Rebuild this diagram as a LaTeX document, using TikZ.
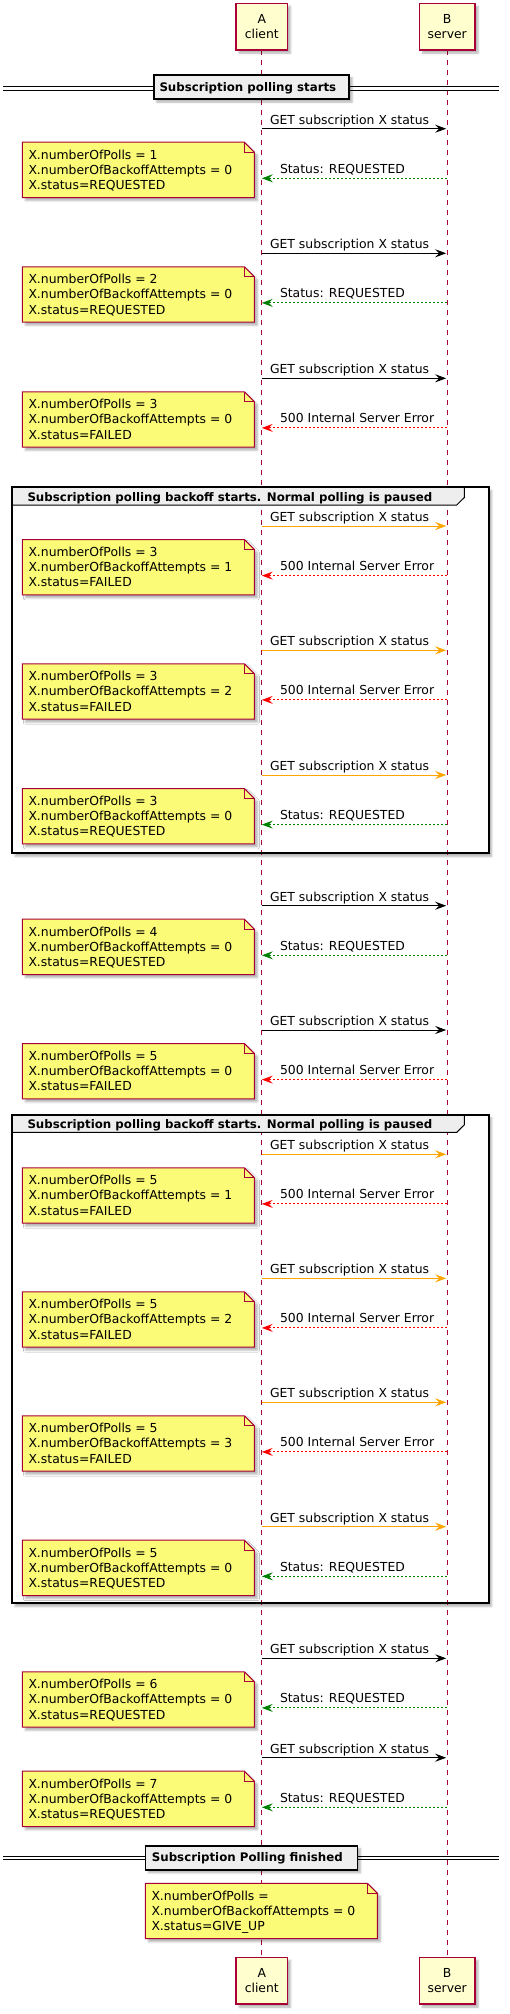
\documentclass[tikz,border=0pt]{standalone}
\usepackage{fontspec}
\setmainfont{DejaVu Sans}
\usetikzlibrary{arrows.meta,shadows.blur,calc}
\definecolor{partfill}{HTML}{FEFECE}
\definecolor{partline}{HTML}{A80036}
\definecolor{notefill}{HTML}{FBFB77}
\definecolor{hdrfill}{HTML}{EEEEEE}
\definecolor{okgreen}{HTML}{008000}
\definecolor{errred}{HTML}{FF0000}
\definecolor{retryorange}{HTML}{FFA500}
\newcommand\xa{261.8}
\newcommand\xb{447.2}
\newcommand\nt[3]{\vtop{\baselineskip=15.3pt\hbox{#1}\hbox{#2}\hbox{#3}}}
\tikzset{
  shd/.style={blur shadow={shadow xshift=3pt,shadow yshift=-3pt,shadow blur radius=2pt,shadow opacity=30}},
  txt/.style={font=\fontsize{12.4}{15.3}\selectfont, inner sep=0pt},
  hdr/.style={font=\fontsize{11.8}{14}\selectfont\bfseries, inner sep=0pt},
  part/.style={draw=partline, fill=partfill, line width=1.5pt, align=center, inner sep=0pt, font=\fontsize{12.4}{14.5}\selectfont, shd},
  life/.style={draw=partline, line width=1pt, dash pattern=on 5pt off 5pt},
  tip/.style={-{Stealth[length=11pt,width=8pt,inset=4pt]}},
  callblack/.style={tip, draw=black, line width=1pt, shorten >=1pt},
  callorange/.style={tip, draw=retryorange, line width=1pt, shorten >=1pt},
  retgreen/.style={tip, draw=okgreen, line width=1pt, dash pattern=on 2pt off 2pt},
  retred/.style={tip, draw=errred, line width=1pt, dash pattern=on 2pt off 2pt},
  notestyle/.style={fill=notefill, draw=partline, line width=1pt, line join=miter, shd},
  noteline/.style={draw=partline, line width=1pt},
  frame/.style={draw=black, line width=2pt},
  grouptab/.style={fill=hdrfill, draw=black, line width=1pt},
  sepbox/.style={fill=hdrfill, draw=black, line width=1.5pt, inner sep=0pt, shd},
  sepline/.style={draw=black, line width=1pt},
}
\newcommand\notebox[6]{%
  \node[minimum width=231.7pt, minimum height=55pt, inner sep=0pt, anchor=north west] (#1) at (#2,#3) {};
  \path[notestyle] (#1.north west) -- ([xshift=-10pt]#1.north east) -- ([yshift=-10pt]#1.north east) -- (#1.south east) -- (#1.south west) -- cycle;
  \path[noteline] ([xshift=-10pt]#1.north east) -- ([xshift=-10pt,yshift=-10pt]#1.north east) -- ([yshift=-10pt]#1.north east);
  \node[txt, anchor=base west] (#1t) at ([xshift=6pt,yshift=-16.8pt]#1.north west) {\nt{#4}{#5}{#6}};
}
\newcommand\msg[8]{%
  \coordinate (a#1) at (\xa,#2);
  \coordinate (b#1) at (\xb,#2);
  \coordinate (ra#1) at (\xa,#2+49.6);
  \coordinate (rb#1) at (\xb,#2+49.6);
  \draw[#3] (a#1) -- (b#1);
  \node[txt, anchor=base west] (q#1) at ([xshift=8pt,yshift=4.5pt]a#1) {GET subscription X status};
  \draw[#4] (rb#1) -- (ra#1);
  \node[txt, anchor=base west] (r#1) at ([xshift=18pt,yshift=5pt]ra#1) {#5};
  \notebox{n#1}{22.3}{#2+13.5}{X.numberOfPolls = #6}{X.numberOfBackoffAttempts = #7}{X.status=#8}%
}
\newcommand\grpbg[2]{\fill[white, shd] (12,#1) rectangle (488.7,#2);}
\newcommand\grpfg[3]{%
  \filldraw[grouptab] (12,#2) -- (464.3,#2) -- (464.3,#2+10.2) -- (456.7,#2+17.7) -- (12,#2+17.7) -- cycle;
  \draw[frame] (12,#2) rectangle (488.7,#3);
  \node[hdr, anchor=base west] (#1) at (27.3,#2+14) {Subscription polling backoff starts. Normal polling is paused};
}
\begin{document}
\begin{tikzpicture}[x=1pt,y=-1pt]
\useasboundingbox (0,0) rectangle (509,2014);
% group backgrounds
\grpbg{487.3}{853.3}
\grpbg{1114.7}{1603.3}
% lifelines
\coordinate (la1) at (\xa,50);
\coordinate (la2) at (\xa,1957.3);
\coordinate (lb1) at (\xb,50);
\coordinate (lb2) at (\xb,1957.3);
\draw[life] (la1) -- (la2);
\draw[life] (lb1) -- (lb2);
% group frames
\grpfg{g1}{487.3}{853.3}
\grpfg{g2}{1114.7}{1603.3}
% separator 1
\coordinate (s1l1) at (3.3,86.7); \coordinate (s1r1) at (499,86.7);
\coordinate (s1l2) at (3.3,90); \coordinate (s1r2) at (499,90);
\draw[sepline] (s1l1) -- (s1r1);
\draw[sepline] (s1l2) -- (s1r2);
\node[sepbox, minimum width=195.3pt, minimum height=24.3pt, anchor=north west] (s1) at (153,74) {};
\node[hdr, anchor=base west] (s1t) at (159.3,91.7) {Subscription polling starts};
% separator 2
\coordinate (s2l1) at (3.3,1856); \coordinate (s2r1) at (499,1856);
\coordinate (s2l2) at (3.3,1859.3); \coordinate (s2r2) at (499,1859.3);
\draw[sepline] (s2l1) -- (s2r1);
\draw[sepline] (s2l2) -- (s2r2);
\node[sepbox, minimum width=212pt, minimum height=24pt, anchor=north west] (s2) at (144.7,1845) {};
\node[hdr, anchor=base west] (s2t) at (151.7,1861.7) {Subscription Polling finished};
% participants
\node[part, minimum width=51.4pt, minimum height=46.7pt] (A) at (\xa,26.7) {A\\client};
\node[part, minimum width=55.7pt, minimum height=46.7pt] (B) at (\xb,26.7) {B\\server};
\node[part, minimum width=51.4pt, minimum height=46.7pt] (A2) at (\xa,1980.7) {A\\client};
\node[part, minimum width=55.7pt, minimum height=46.7pt] (B2) at (\xb,1980.7) {B\\server};
% messages
\msg{1}{128.7}{callblack}{retgreen}{Status: REQUESTED}{1}{0}{REQUESTED}
\msg{2}{253.3}{callblack}{retgreen}{Status: REQUESTED}{2}{0}{REQUESTED}
\msg{3}{378.3}{callblack}{retred}{500 Internal Server Error}{3}{0}{FAILED}
\msg{4}{526}{callorange}{retred}{500 Internal Server Error}{3}{1}{FAILED}
\msg{5}{650.3}{callorange}{retred}{500 Internal Server Error}{3}{2}{FAILED}
\msg{6}{775}{callorange}{retgreen}{Status: REQUESTED}{3}{0}{REQUESTED}
\msg{7}{905.7}{callblack}{retgreen}{Status: REQUESTED}{4}{0}{REQUESTED}
\msg{8}{1030}{callblack}{retred}{500 Internal Server Error}{5}{0}{FAILED}
\msg{9}{1154.3}{callorange}{retred}{500 Internal Server Error}{5}{1}{FAILED}
\msg{10}{1278.3}{callorange}{retred}{500 Internal Server Error}{5}{2}{FAILED}
\msg{11}{1402.3}{callorange}{retred}{500 Internal Server Error}{5}{3}{FAILED}
\msg{12}{1526.7}{callorange}{retgreen}{Status: REQUESTED}{5}{0}{REQUESTED}
\msg{13}{1658.3}{callblack}{retgreen}{Status: REQUESTED}{6}{0}{REQUESTED}
\msg{14}{1757.7}{callblack}{retgreen}{Status: REQUESTED}{7}{0}{REQUESTED}
% final note
\notebox{nf}{145.3}{1883.3}{X.numberOfPolls =}{X.numberOfBackoffAttempts = 0}{X.status=GIVE\_UP}
\end{tikzpicture}
\end{document}
